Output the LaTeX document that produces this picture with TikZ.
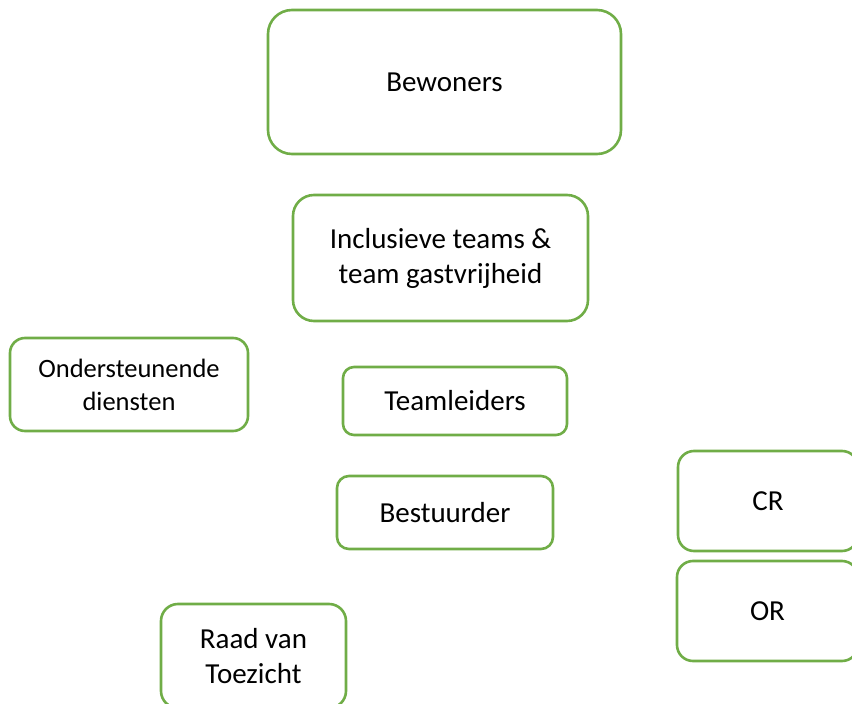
\documentclass[tikz,border=0pt]{standalone}
\usepackage{fontspec}
\setmainfont{Carlito}
\definecolor{officegreen}{RGB}{112,173,71}

\begin{document}
\begin{tikzpicture}[x=1pt, y=-1pt,
	orgbox/.style={rectangle, draw=officegreen, line width=2.6pt, align=center, inner sep=0pt, font=\fontsize{29}{35}\selectfont}]
			\useasboundingbox (0,0) rectangle (852,704);
			\draw (444.5, 82) node [orgbox, rounded corners=24pt, minimum width=353pt, minimum height=144pt] (bewoners) {Bewoners};
			\draw (440.5, 258) node [orgbox, rounded corners=21pt, minimum width=295pt, minimum height=126pt] (teams) {Inclusieve teams \&\\team gastvrijheid};
			\draw (129, 384.5) node [orgbox, rounded corners=15pt, minimum width=238pt, minimum height=93pt, font=\fontsize{26.5}{33}\selectfont] (diensten) {Ondersteunende\\diensten};
			\draw (455, 401) node [orgbox, rounded corners=11pt, minimum width=224pt, minimum height=68pt] (teamleiders) {Teamleiders};
			\draw (445, 512.5) node [orgbox, rounded corners=12pt, minimum width=216pt, minimum height=73pt] (bestuurder) {Bestuurder};
			\draw (768, 501) node [orgbox, rounded corners=16pt, minimum width=180pt, minimum height=100pt] (cr) {CR};
			\draw (767.5, 611) node [orgbox, rounded corners=16pt, minimum width=181pt, minimum height=100pt] (or) {OR};
			\draw (253.5, 656) node [orgbox, rounded corners=17pt, minimum width=185pt, minimum height=104pt] (rvt) {Raad van\\Toezicht};
		\end{tikzpicture}
\end{document}
